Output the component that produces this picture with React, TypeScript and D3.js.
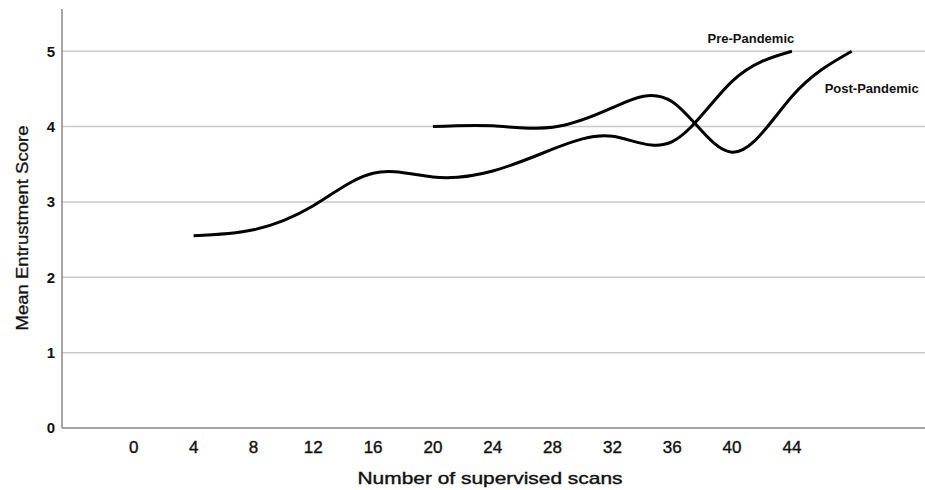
import React from 'react';
import * as d3 from 'd3';

// scans (x) and mean entrustment score (y) for each cohort
const preScans = [4, 8, 12, 16, 20, 24, 28, 32, 36, 40, 44];
const preScores = [2.55, 2.63, 2.95, 3.38, 3.33, 3.41, 3.7, 3.87, 3.8, 4.6, 5.0];
const postScans = [20, 24, 28, 32, 36, 40, 44, 48];
const postScores = [4.0, 4.01, 3.99, 4.25, 4.33, 3.66, 4.4, 5.0];

const xTicks = [0, 4, 8, 12, 16, 20, 24, 28, 32, 36, 40, 44];
const yTicks = [0, 1, 2, 3, 4, 5];

const W = 925;
const H = 490;
const FONT = '"Liberation Sans", Arial, sans-serif';

const App: React.FC = () => {
  const x = d3.scaleLinear().domain([-4.8, 52.9]).range([62, 925]);
  const y = d3.scaleLinear().domain([0, 5.56]).range([428, 9]);

  const line = d3.line<[number, number]>()
    .x(d => x(d[0]))
    .y(d => y(d[1]))
    .curve(d3.curveNatural);

  const pre = preScans.map((s, i) => [s, preScores[i]] as [number, number]);
  const post = postScans.map((s, i) => [s, postScores[i]] as [number, number]);

  const [x0, x1] = x.range();
  const [yBottom, yTop] = y.range();

  return (
    <div style={{ position: 'absolute', left: 0, top: 0 }}>
      <svg width={W} height={H} style={{ display: 'block', background: '#fff' }} fontFamily={FONT}>
        {/* gridlines */}
        {yTicks.filter(t => t > 0).map(t => (
          <line key={t} x1={x0} x2={x1} y1={y(t)} y2={y(t)} stroke="#c9c9c9" strokeWidth={1.5} />
        ))}

        {/* axes */}
        <line x1={x0} x2={x0} y1={yTop} y2={yBottom} stroke="#888" strokeWidth={1.5} />
        <line x1={x0} x2={x1} y1={yBottom} y2={yBottom} stroke="#888" strokeWidth={1.5} />

        {yTicks.map(t => (
          <text key={t} x={55} y={y(t)} dy="0.36em" textAnchor="end" fontSize={15} fontWeight="bold" fill="#111">
            {t}
          </text>
        ))}
        {xTicks.map(t => (
          <text key={t} x={x(t)} y={453} textAnchor="middle" fontSize={17} fill="#111"
            stroke="#111" strokeWidth={0.4}>
            {t}
          </text>
        ))}

        <text x={490} y={484} textAnchor="middle" fontSize={17} fill="#111" stroke="#111" strokeWidth={0.4}
          textLength={265} lengthAdjust="spacingAndGlyphs">
          Number of supervised scans
        </text>
        <text transform={`translate(28, 228) rotate(-90)`} textAnchor="middle" fontSize={17} fill="#111"
          stroke="#111" strokeWidth={0.3} textLength={205} lengthAdjust="spacingAndGlyphs">
          Mean Entrustment Score
        </text>

        {/* series */}
        <path d={line(pre) || ''} fill="none" stroke="#000" strokeWidth={3} />
        <path d={line(post) || ''} fill="none" stroke="#000" strokeWidth={3} />

        <text x={x(44) - 41} y={y(5) - 8} textAnchor="middle" fontSize={13} fontWeight="bold" fill="#111">
          Pre-Pandemic
        </text>
        <text x={x(48) - 27} y={y(5) + 42} fontSize={13} fontWeight="bold" fill="#111">
          Post-Pandemic
        </text>
      </svg>
    </div>
  );
};

export default App;
